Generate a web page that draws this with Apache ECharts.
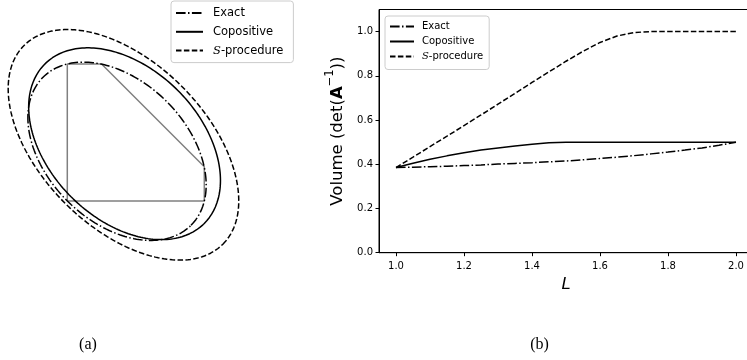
<!DOCTYPE html>
<html><head><meta charset="utf-8">
<script src="https://cdn.jsdelivr.net/npm/echarts@6/dist/echarts.min.js"></script>
<style>html,body{margin:0;padding:0;background:#fff}#c{width:747px;height:360px}</style>
</head><body><div id="c"></div>
<script>
// ---- Panel (b) data ----
var L = [1.0,1.05,1.1,1.15,1.2,1.25,1.3,1.35,1.4,1.45,1.5,1.55,1.6,1.65,1.7,1.75,1.8,1.85,1.9,1.95,2.0];
var exactVol = [0.385,0.387,0.389,0.391,0.394,0.397,0.401,0.404,0.407,0.411,0.415,0.420,0.426,0.432,0.439,0.447,0.455,0.464,0.474,0.486,0.500];
var copositiveVol = [0.385,0.405,0.423,0.438,0.452,0.464,0.474,0.483,0.491,0.497,0.500,0.500,0.500,0.500,0.500,0.500,0.500,0.500,0.500,0.500,0.500];
var sprocVol = [0.385,0.432,0.480,0.527,0.575,0.623,0.672,0.721,0.770,0.818,0.866,0.911,0.951,0.980,0.996,1.0,1.0,1.0,1.0,1.0,1.0];
var xTicks = [1.0,1.2,1.4,1.6,1.8,2.0];
var yTicks = [0.0,0.2,0.4,0.6,0.8,1.0];

// ---- Panel (a) data ----
var polygonX = [0,1,1,0.25,0,0];
var polygonY = [0,0,0.25,1,1,0];
// ellipses: center (c,c), semi-axis a along (1,-1), b along (1,1)
var ellipseNames = ['Exact','Copositive','S-procedure'];
var ellipseCenter = [0.363,0.418,0.41];
var ellipseA = [0.764,0.823,1.026];
var ellipseB = [0.513,0.55,0.603];

function ellipsePts(i){
  var pts=[], c=ellipseCenter[i], a=ellipseA[i], b=ellipseB[i], r=Math.SQRT1_2;
  for(var k=0;k<=240;k++){
    var t=2*Math.PI*k/240, u=a*Math.cos(t), v=b*Math.sin(t);
    pts.push([c+(u+v)*r, c+(-u+v)*r]);
  }
  return pts;
}
function zip(x,y){return x.map(function(v,i){return [v,y[i]];});}

var styles = {
  'Exact': [9.6,2.4,1.5,2.4],
  'Copositive': 'solid',
  'S-procedure': [5.5,2.4]
};
function ls(name){return {color:'#000',width:1.5,type:styles[name]};}

var series = [];
series.push({type:'line',xAxisIndex:0,yAxisIndex:0,data:zip(polygonX,polygonY),showSymbol:false,symbol:'none',
  lineStyle:{color:'#808080',width:1.5},itemStyle:{color:'#808080'},silent:true,clip:false,z:1});
ellipseNames.forEach(function(n,i){
  series.push({name:n,type:'line',xAxisIndex:0,yAxisIndex:0,data:ellipsePts(i),symbol:'none',
    itemStyle:{color:'#000'},lineStyle:ls(n),clip:false,z:2});
});
[['Exact',exactVol],['Copositive',copositiveVol],['S-procedure',sprocVol]].forEach(function(p){
  series.push({name:p[0],type:'line',xAxisIndex:1,yAxisIndex:1,data:zip(L,p[1]),symbol:'none',
    itemStyle:{color:'#000'},lineStyle:ls(p[0]),z:2});
});

var rich = {s:{fontFamily:'DejaVu Serif',fontStyle:'italic'}};
function legFmt(n){return n==='S-procedure' ? '{s|S}-procedure' : n;}
var hiddenDot = {color:'rgba(0,0,0,0)',borderWidth:0,opacity:0};

var pxPerUnit = 137;
var option = {
  animation:false,
  textStyle:{fontFamily:'DejaVu Sans'},
  grid:[
    {left:0, top:201-1.3*pxPerUnit, width:1.8*pxPerUnit, height:1.8*pxPerUnit, show:false, outerBoundsMode:'none', containLabel:false},
    {left:379, top:9.5, width:374, height:243.2, show:true, borderColor:'#000', borderWidth:1, backgroundColor:'transparent', outerBoundsMode:'none', containLabel:false}
  ],
  xAxis:[
    {gridIndex:0,type:'value',min:-67.3/pxPerUnit,max:-67.3/pxPerUnit+1.8,show:false},
    {gridIndex:1,type:'value',min:0.95,max:2.05,
     name:'L',nameLocation:'middle',nameGap:22,nameTextStyle:{fontSize:16.5,fontStyle:'italic',color:'#000'},
     axisLine:{lineStyle:{color:'#000',width:1}},
     axisTick:{show:true,length:3.5,lineStyle:{color:'#000'},customValues:xTicks},
     axisLabel:{customValues:xTicks,fontSize:10,color:'#000',margin:8.5,formatter:function(v){return v.toFixed(1);}},
     splitLine:{show:false}}
  ],
  yAxis:[
    {gridIndex:0,type:'value',min:-0.5,max:1.3,show:false},
    {gridIndex:1,type:'value',min:0,max:1.1,
     name:'{n|Volume (det(}{b|A}{sup|−1}{n|))}',nameLocation:'middle',nameGap:28,nameRotate:90,
     nameTextStyle:{color:'#000',rich:{
       n:{fontSize:16.5,color:'#000',lineHeight:22,verticalAlign:'bottom'},
       b:{fontSize:16.5,fontWeight:'bold',color:'#000',lineHeight:22,verticalAlign:'bottom'},
       sup:{fontSize:11.5,color:'#000',lineHeight:22,verticalAlign:'top'}}},
     axisLine:{show:true,lineStyle:{color:'#000',width:1}},
     axisTick:{show:true,length:3.5,lineStyle:{color:'#000'},customValues:yTicks},
     axisLabel:{customValues:yTicks,fontSize:10,color:'#000',margin:6,formatter:function(v){return v.toFixed(1);}},
     splitLine:{show:false}}
  ],
  legend:[
    {data:ellipseNames,orient:'vertical',left:171,top:1,padding:[6,10,6,4],itemWidth:27,itemHeight:12,itemGap:6.8,
     backgroundColor:'rgba(255,255,255,0.8)',borderColor:'#ccc',borderWidth:1,borderRadius:3,
     itemStyle:hiddenDot,
     textStyle:{fontSize:11.5,color:'#000',padding:[0,0,0,5],rich:rich},formatter:legFmt,selectedMode:false},
    {data:ellipseNames,orient:'vertical',left:385,top:16,padding:[5.5,6,8,4],itemWidth:24,itemHeight:11,itemGap:5,
     backgroundColor:'rgba(255,255,255,0.8)',borderColor:'#ccc',borderWidth:1,borderRadius:3,
     itemStyle:hiddenDot,
     textStyle:{fontSize:10,color:'#000',padding:[0,0,0,3],rich:rich},formatter:legFmt,selectedMode:false}
  ],
  graphic:[
    {type:'text',x:88,y:345,style:{text:'(a)',font:'16px "Liberation Serif"',fill:'#000',align:'center',verticalAlign:'middle'}},
    {type:'text',x:539.5,y:345,style:{text:'(b)',font:'16px "Liberation Serif"',fill:'#000',align:'center',verticalAlign:'middle'}}
  ],
  series:series
};
var chart = echarts.init(document.getElementById('c'),null,{renderer:'canvas'});
chart.setOption(option);
</script></body></html>
